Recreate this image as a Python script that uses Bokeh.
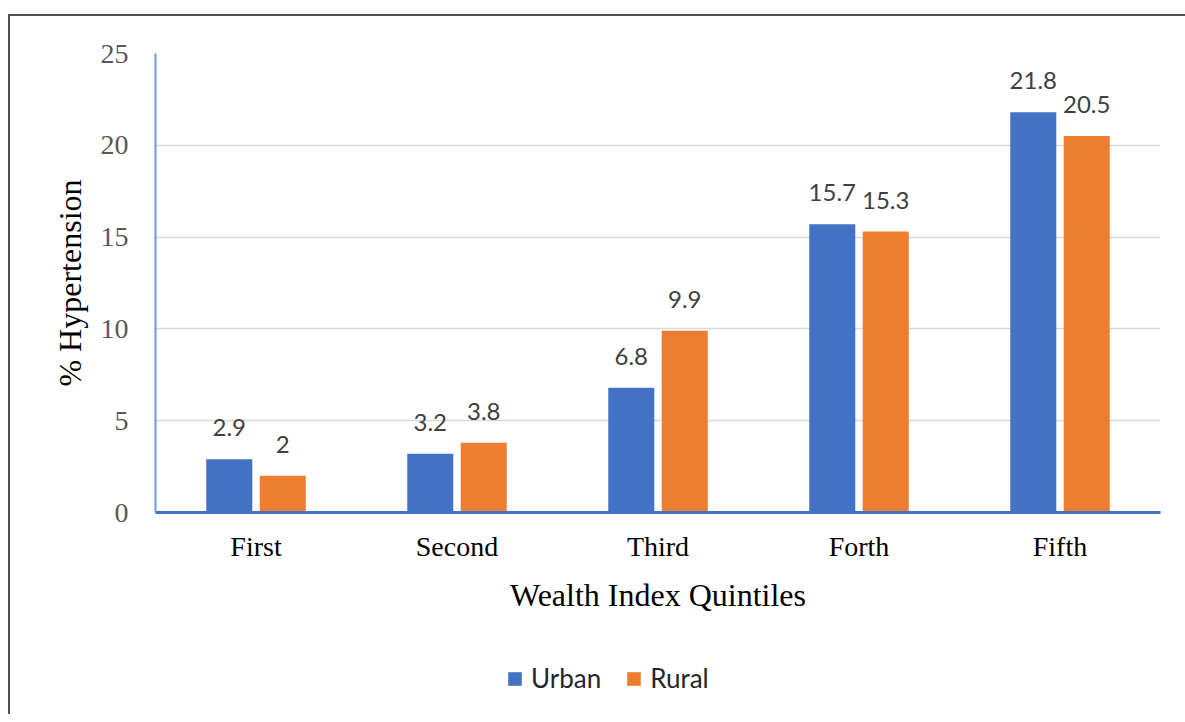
from bokeh.plotting import figure
from bokeh.layouts import column
from bokeh.models import (ColumnDataSource, FactorRange, Range1d, FixedTicker,
                          LabelSet, Legend, LegendItem)
from bokeh.transform import dodge
from bokeh.core.properties import value
from bokeh.embed import file_html
from bokeh.resources import INLINE

# ---- data ----
quintiles = ["First", "Second", "Third", "Forth", "Fifth"]
urban = [2.9, 3.2, 6.8, 15.7, 21.8]
rural = [2.0, 3.8, 9.9, 15.3, 20.5]
urban_labels = ["2.9", "3.2", "6.8", "15.7", "21.8"]
rural_labels = ["2", "3.8", "9.9", "15.3", "20.5"]
series_names = ["Urban", "Rural"]
y_ticks = [0, 5, 10, 15, 20, 25]

src = ColumnDataSource(dict(q=quintiles, urban=urban, rural=rural,
                            ul=urban_labels, rl=rural_labels))

SERIF = "Liberation Serif"
SANS = "Lato"
BLUE = "#4472C4"
ORANGE = "#ED7D31"

W = 1175
p = figure(x_range=FactorRange(*quintiles, range_padding=0),
           y_range=Range1d(0, 25),
           width=W, height=600, output_backend="svg", toolbar_location=None,
           min_border_left=145, min_border_right=25, min_border_top=37,
           min_border_bottom=104)
p.outline_line_color = None
p.background_fill_color = "white"
p.border_fill_color = "white"

off = 0.133
bw = 0.229
r_u = p.vbar(x=dodge("q", -off, range=p.x_range), top="urban", width=bw,
             source=src, fill_color=BLUE, line_color=None)
r_r = p.vbar(x=dodge("q", off, range=p.x_range), top="rural", width=bw,
             source=src, fill_color=ORANGE, line_color=None)

for col, lab, o in (("urban", "ul", -off), ("rural", "rl", off)):
    ls = LabelSet(x=dodge("q", o, range=p.x_range), y=col, text=lab, source=src,
                  y_offset=23, text_align="center", text_baseline="alphabetic",
                  text_font=value(SANS), text_font_size="24px", text_color="#404040")
    p.add_layout(ls)

# y axis
p.yaxis.ticker = FixedTicker(ticks=y_ticks)
p.yaxis.axis_line_color = "#6f97dd"
p.yaxis.axis_line_width = 2
p.yaxis.major_tick_line_color = None
p.yaxis.minor_tick_line_color = None
p.yaxis.major_tick_out = 0
p.yaxis.major_tick_in = 0
p.yaxis.major_label_standoff = 27
p.yaxis.major_label_text_font = SERIF
p.yaxis.major_label_text_font_size = "28px"
p.yaxis.major_label_text_color = "#595959"
p.yaxis.axis_label = "% Hypertension"
p.yaxis.axis_label_text_font = SERIF
p.yaxis.axis_label_text_font_size = "32px"
p.yaxis.axis_label_text_font_style = "normal"
p.yaxis.axis_label_text_color = "black"
p.yaxis.axis_label_standoff = 10

# x axis
p.xaxis.axis_line_color = BLUE
p.xaxis.axis_line_width = 3
p.xaxis.major_tick_line_color = None
p.xaxis.minor_tick_line_color = None
p.xaxis.major_tick_out = 0
p.xaxis.major_tick_in = 0
p.xaxis.major_label_standoff = 18
p.xaxis.major_label_text_font = SERIF
p.xaxis.major_label_text_font_size = "28px"
p.xaxis.major_label_text_color = "black"
p.xaxis.axis_label = "Wealth Index Quintiles"
p.xaxis.axis_label_text_font = SERIF
p.xaxis.axis_label_text_font_size = "32px"
p.xaxis.axis_label_text_font_style = "normal"
p.xaxis.axis_label_text_color = "black"
p.xaxis.axis_label_standoff = 12

p.xgrid.grid_line_color = None
p.ygrid.ticker = FixedTicker(ticks=y_ticks)
p.ygrid.grid_line_color = "#d9d9d9"
p.ygrid.grid_line_width = 1.5

# legend strip (separate figure so the legend is not clipped)
p2 = figure(width=W, height=98, output_backend="svg", toolbar_location=None,
            x_range=Range1d(0, 1), y_range=Range1d(0, 1),
            x_axis_type=None, y_axis_type=None, min_border=0)
p2.outline_line_color = None
p2.grid.visible = False
p2.border_fill_color = "white"
# legend-key renderers: placed far outside the visible range so only the keys show
lr_u = p2.vbar(x=[50], bottom=[50], top=[60], width=0.1, fill_color=BLUE, line_color=None)
lr_r = p2.vbar(x=[50], bottom=[50], top=[60], width=0.1, fill_color=ORANGE, line_color=None)

legend = Legend(items=[LegendItem(label=series_names[0], renderers=[lr_u]),
                       LegendItem(label=series_names[1], renderers=[lr_r])],
                location=(351, 20), orientation="horizontal",
                glyph_width=17, glyph_height=17, label_standoff=8, spacing=24,
                padding=0, margin=0, border_line_color=None,
                background_fill_alpha=0,
                label_text_font=SANS, label_text_font_size="26px",
                label_text_color="#262626", label_height=17)
p2.add_layout(legend, "center")

layout = column(p, p2, margin=(14, 0, 0, 8), spacing=0,
                styles={"border-top": "2px solid #505050",
                        "border-left": "2px solid #505050"})

open("out.html", "w").write(file_html(layout, INLINE))
